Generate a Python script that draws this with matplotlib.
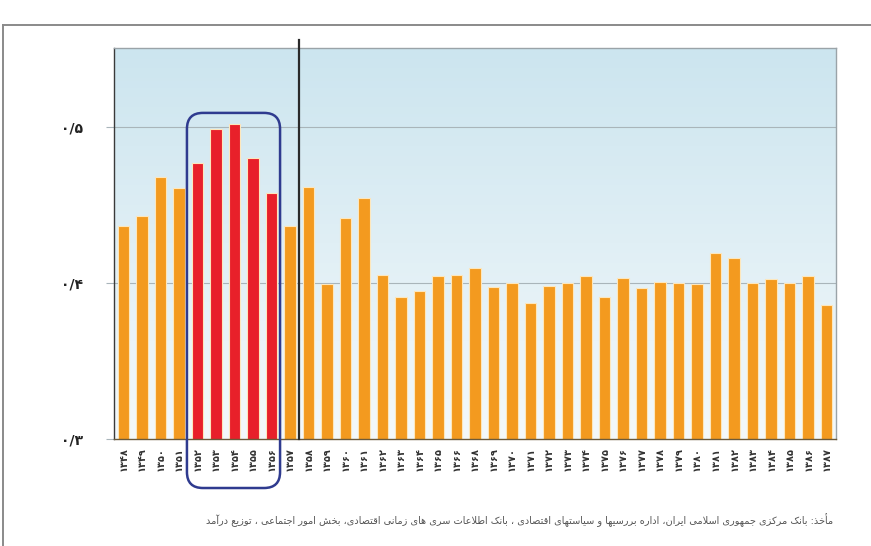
import numpy as np
import matplotlib
matplotlib.use("Agg")
import matplotlib.pyplot as plt
from matplotlib.patches import FancyBboxPatch
from matplotlib.transforms import IdentityTransform
from matplotlib.lines import Line2D

# ---------------- data ----------------
years = [1348, 1349, 1350, 1351, 1352, 1353, 1354, 1355, 1356, 1357,
         1358, 1359, 1360, 1361, 1362, 1363, 1364, 1365, 1366,
         1368, 1369, 1370, 1371, 1372, 1373, 1374, 1375, 1376, 1377,
         1378, 1379, 1380, 1381, 1382, 1383, 1384, 1385, 1386, 1387]
gini = [0.4365, 0.4430, 0.4678, 0.4607, 0.4771, 0.4985, 0.5017, 0.4803, 0.4579, 0.4365,
        0.4617, 0.3992, 0.4415, 0.4543, 0.4051, 0.3908, 0.3949, 0.4045, 0.4051,
        0.4098, 0.3976, 0.3998, 0.3870, 0.3980, 0.3998, 0.4047, 0.3912, 0.4030, 0.3966,
        0.4008, 0.3998, 0.3992, 0.4194, 0.4158, 0.3998, 0.4024, 0.4002, 0.4047, 0.3859]
highlight_years = [1352, 1353, 1354, 1355, 1356]
divider_after_year = 1357
y_ticks = [0.3, 0.4, 0.5]
y_tick_labels = ["۰/۳", "۰/۴", "۰/۵"]
source_text = ("مأخذ: بانک مرکزی جمهوری اسلامی ایران، اداره بررسیها و سیاستهای اقتصادی ، "
               "بانک اطلاعات سری های زمانی اقتصادی، بخش امور اجتماعی ، توزیع درآمد")

# ---------------- helpers ----------------
PERSIAN_DIGITS = "۰۱۲۳۴۵۶۷۸۹"
def fa_num(n):
    return "".join(PERSIAN_DIGITS[int(c)] for c in str(n))

FORMS = {
    'ا': (0xFE8D, 0xFE8E, None, None), 'آ': (0xFE81, 0xFE82, None, None),
    'أ': (0xFE83, 0xFE84, None, None), 'إ': (0xFE87, 0xFE88, None, None),
    'ب': (0xFE8F, 0xFE90, 0xFE91, 0xFE92), 'ت': (0xFE95, 0xFE96, 0xFE97, 0xFE98),
    'ث': (0xFE99, 0xFE9A, 0xFE9B, 0xFE9C), 'ج': (0xFE9D, 0xFE9E, 0xFE9F, 0xFEA0),
    'ح': (0xFEA1, 0xFEA2, 0xFEA3, 0xFEA4), 'خ': (0xFEA5, 0xFEA6, 0xFEA7, 0xFEA8),
    'د': (0xFEA9, 0xFEAA, None, None), 'ذ': (0xFEAB, 0xFEAC, None, None),
    'ر': (0xFEAD, 0xFEAE, None, None), 'ز': (0xFEAF, 0xFEB0, None, None),
    'ژ': (0xFB8A, 0xFB8B, None, None),
    'س': (0xFEB1, 0xFEB2, 0xFEB3, 0xFEB4), 'ش': (0xFEB5, 0xFEB6, 0xFEB7, 0xFEB8),
    'ص': (0xFEB9, 0xFEBA, 0xFEBB, 0xFEBC), 'ض': (0xFEBD, 0xFEBE, 0xFEBF, 0xFEC0),
    'ط': (0xFEC1, 0xFEC2, 0xFEC3, 0xFEC4), 'ظ': (0xFEC5, 0xFEC6, 0xFEC7, 0xFEC8),
    'ع': (0xFEC9, 0xFECA, 0xFECB, 0xFECC), 'غ': (0xFECD, 0xFECE, 0xFECF, 0xFED0),
    'ف': (0xFED1, 0xFED2, 0xFED3, 0xFED4), 'ق': (0xFED5, 0xFED6, 0xFED7, 0xFED8),
    'ل': (0xFEDD, 0xFEDE, 0xFEDF, 0xFEE0), 'م': (0xFEE1, 0xFEE2, 0xFEE3, 0xFEE4),
    'ن': (0xFEE5, 0xFEE6, 0xFEE7, 0xFEE8), 'ه': (0xFEE9, 0xFEEA, 0xFEEB, 0xFEEC),
    'و': (0xFEED, 0xFEEE, None, None),
    'ی': (0xFBFC, 0xFBFD, 0xFBFE, 0xFBFF), 'ک': (0xFB8E, 0xFB8F, 0xFB90, 0xFB91),
    'گ': (0xFB92, 0xFB93, 0xFB94, 0xFB95), 'پ': (0xFB56, 0xFB57, 0xFB58, 0xFB59),
    'چ': (0xFB7A, 0xFB7B, 0xFB7C, 0xFB7D),
}
LAM_ALEF = {'ا': (0xFEFB, 0xFEFC), 'آ': (0xFEF5, 0xFEF6), 'أ': (0xFEF7, 0xFEF8), 'إ': (0xFEF9, 0xFEFA)}

def dual(c):
    return c in FORMS and FORMS[c][2] is not None

def shape(text):
    out = []
    i = 0
    n = len(text)
    while i < n:
        c = text[i]
        if c not in FORMS:
            out.append(c)
            i += 1
            continue
        prev = text[i - 1] if i > 0 else ''
        jp = dual(prev)
        if c == 'ل' and i + 1 < n and text[i + 1] in LAM_ALEF:
            iso, fin = LAM_ALEF[text[i + 1]]
            out.append(chr(fin if jp else iso))
            i += 2
            continue
        nxt = text[i + 1] if i + 1 < n else ''
        jn = nxt in FORMS and dual(c)
        iso, fin, ini, med = FORMS[c]
        if jp and jn:
            out.append(chr(med))
        elif jp:
            out.append(chr(fin))
        elif jn:
            out.append(chr(ini))
        else:
            out.append(chr(iso))
        i += 1
    return "".join(reversed(out))

# ---------------- figure ----------------
W, H, DPI = 871, 546, 100
fig = plt.figure(figsize=(W / DPI, H / DPI), dpi=DPI)
fig.patch.set_facecolor("white")

ax_l, ax_r, ax_t, ax_b = 114, 836, 48, 439
ax = fig.add_axes([ax_l / W, 1 - ax_b / H, (ax_r - ax_l) / W, (ax_b - ax_t) / H])

x = np.arange(len(years))
ax.set_xlim(-0.5, len(years) - 0.5)
ax.set_ylim(0.3, 0.5506)

# background gradient
grad = np.linspace(0, 1, 256).reshape(-1, 1)
top_c = np.array([204, 229, 239]) / 255
bot_c = np.array([244, 249, 251]) / 255
img = top_c[None, None, :] * (1 - grad[:, :, None]) + bot_c[None, None, :] * grad[:, :, None]
ax.imshow(img, extent=[0, 1, 0, 1], transform=ax.transAxes, aspect="auto", zorder=0)

# gridlines
for yv in y_ticks[1:]:
    ax.axhline(yv, color="#a9b5ba", lw=0.8, zorder=1)

colors = ["#e8202a" if yr in highlight_years else "#f39a1f" for yr in years]
ax.bar(x, gini, width=0.62, bottom=0, color=colors, edgecolor="#fde7bd", linewidth=0.8, zorder=2)

# divider line
div_idx = years.index(divider_after_year) + 0.5
ax.plot([div_idx, div_idx], [0.3, 0.5506 + 8 / 1560], color="#2a2a2a", lw=1.6,
        clip_on=False, zorder=5)

# spines
for s in ["top", "right"]:
    ax.spines[s].set_color("#9aa3a8")
    ax.spines[s].set_linewidth(1.0)
ax.spines["left"].set_color("#3a3a3a")
ax.spines["left"].set_linewidth(1.0)
ax.spines["bottom"].set_color("#6b5a3a")
ax.spines["bottom"].set_linewidth(1.0)

ax.set_yticks(y_ticks)
ax.set_yticklabels(y_tick_labels, fontsize=10, fontweight="bold", color="#222222",
                   family=["DejaVu Sans"])
ax.tick_params(axis="y", length=6, color="#a9b5ba", pad=16)
ax.set_xticks(x)
ax.set_xticklabels([fa_num(y) for y in years], rotation=90, fontsize=7,
                   fontweight="bold", color="#333333", family=["DejaVu Sans"])
ax.tick_params(axis="x", length=0, pad=6)

# highlight box (rounded) in pixel coordinates derived from data
hi_first = years.index(highlight_years[0])
hi_last = years.index(highlight_years[-1])
p0 = ax.transData.transform((hi_first - 0.56, 0.3 - 49 / 1560))
p1 = ax.transData.transform((hi_last + 0.47, 0.509))
box = FancyBboxPatch((p0[0], p0[1]), p1[0] - p0[0], p1[1] - p0[1],
                     boxstyle="round,pad=0,rounding_size=16",
                     transform=IdentityTransform(), fill=False,
                     edgecolor="#2f3b8f", linewidth=1.8, zorder=10)
fig.patches.append(box)

# outer frame (top and left visible)
fig.add_artist(Line2D([3 / W, 1.0], [1 - 25 / H, 1 - 25 / H], transform=fig.transFigure,
                      color="#8a8a8a", lw=1.4))
fig.add_artist(Line2D([3 / W, 3 / W], [0.0, 1 - 25 / H], transform=fig.transFigure,
                      color="#8a8a8a", lw=1.4))

# source text
fig.text(833 / W, 1 - 520 / H, shape(source_text), ha="right", va="center",
         fontsize=7, color="#555555", family=["DejaVu Sans"])

fig.savefig("out.png", dpi=DPI)
